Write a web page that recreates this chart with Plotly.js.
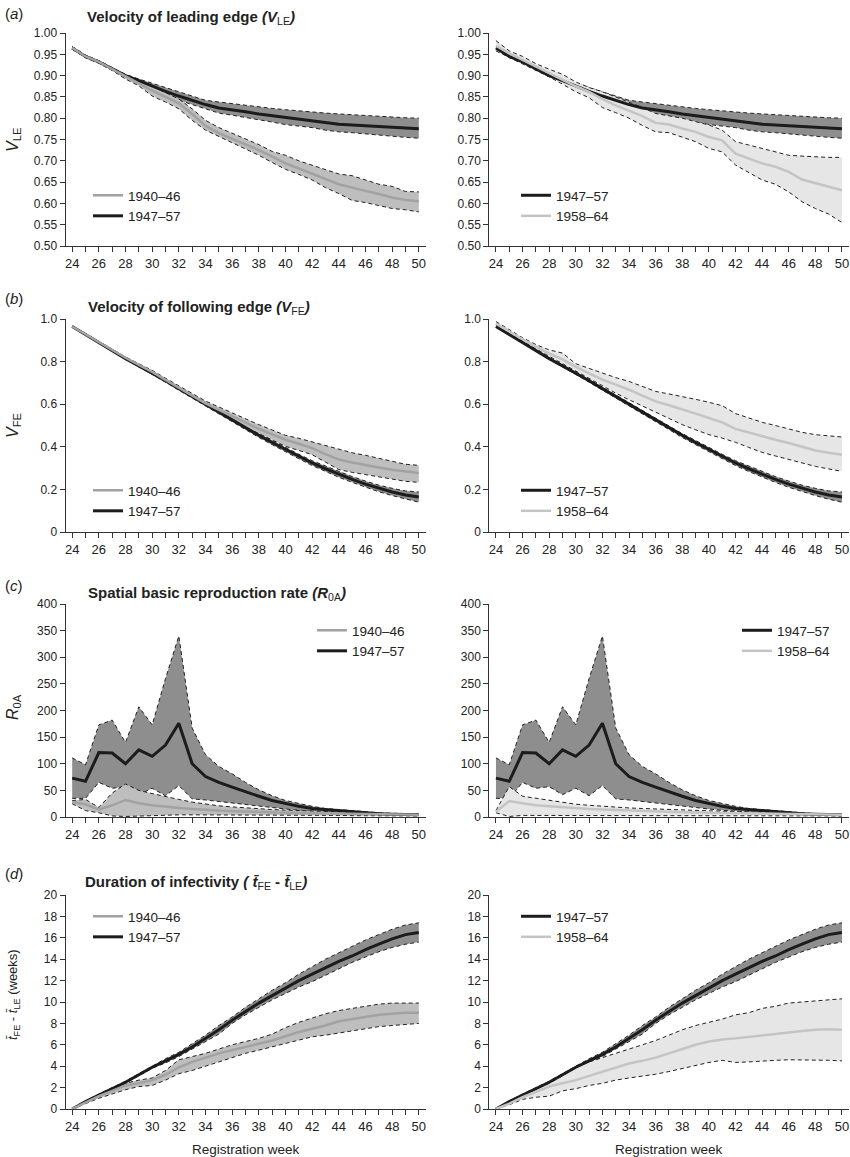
<!DOCTYPE html>
<html>
<head>
<meta charset="utf-8">
<script src="https://cdn.plot.ly/plotly-3.0.1.min.js"></script>
<style>
  html, body { margin: 0; padding: 0; background: #fff; }
  #plot { width: 850px; height: 1157px; }
</style>
</head>
<body>
<div id="plot"></div>
<script>
// registration weeks
const weeks = [24,25,26,27,28,29,30,31,32,33,34,35,36,37,38,39,40,41,42,43,44,45,46,47,48,49,50];

// (a) velocity of leading edge
const vle4046Mid = [0.965,0.945,0.932,0.915,0.897,0.882,0.865,0.850,0.835,0.810,0.782,0.765,0.752,0.738,0.725,0.710,0.694,0.682,0.670,0.657,0.645,0.637,0.630,0.622,0.614,0.608,0.605];
const vle4046Hi  = [0.968,0.948,0.935,0.918,0.900,0.888,0.875,0.860,0.845,0.822,0.795,0.778,0.765,0.752,0.738,0.722,0.713,0.700,0.690,0.680,0.669,0.665,0.655,0.645,0.640,0.628,0.627];
const vle4046Lo  = [0.962,0.942,0.929,0.912,0.892,0.876,0.852,0.838,0.822,0.795,0.772,0.757,0.742,0.727,0.713,0.696,0.680,0.668,0.655,0.637,0.623,0.607,0.602,0.595,0.588,0.585,0.580];
const vle4757Mid = [0.965,0.945,0.932,0.915,0.900,0.888,0.875,0.863,0.852,0.842,0.832,0.824,0.820,0.815,0.810,0.806,0.801,0.797,0.794,0.789,0.786,0.784,0.782,0.781,0.778,0.776,0.775];
const vle4757Hi  = [0.968,0.948,0.935,0.918,0.903,0.892,0.882,0.872,0.862,0.852,0.842,0.838,0.834,0.830,0.827,0.823,0.820,0.817,0.815,0.812,0.810,0.808,0.806,0.805,0.803,0.801,0.800];
const vle4757Lo  = [0.962,0.942,0.929,0.912,0.897,0.884,0.868,0.855,0.842,0.832,0.822,0.812,0.807,0.802,0.797,0.791,0.785,0.781,0.778,0.772,0.768,0.766,0.763,0.761,0.757,0.755,0.753];
const vle5864Mid = [0.970,0.952,0.937,0.921,0.905,0.890,0.875,0.862,0.845,0.830,0.818,0.805,0.789,0.785,0.776,0.768,0.756,0.748,0.717,0.705,0.694,0.686,0.674,0.656,0.648,0.640,0.631];
const vle5864Hi  = [0.982,0.958,0.945,0.928,0.915,0.903,0.885,0.872,0.862,0.850,0.838,0.825,0.811,0.806,0.800,0.792,0.784,0.772,0.745,0.737,0.729,0.720,0.713,0.711,0.709,0.708,0.708];
const vle5864Lo  = [0.958,0.943,0.928,0.913,0.897,0.880,0.862,0.848,0.825,0.813,0.800,0.783,0.768,0.766,0.756,0.745,0.729,0.721,0.690,0.672,0.655,0.645,0.627,0.604,0.588,0.575,0.555];

// (b) velocity of following edge
const vfe4046Mid = [0.965,0.928,0.890,0.854,0.818,0.785,0.752,0.714,0.676,0.640,0.604,0.573,0.543,0.513,0.484,0.458,0.433,0.414,0.394,0.366,0.340,0.326,0.316,0.303,0.292,0.284,0.277];
const vfe4046Hi  = [0.967,0.930,0.893,0.857,0.822,0.790,0.759,0.722,0.686,0.651,0.615,0.587,0.559,0.531,0.504,0.479,0.454,0.440,0.423,0.403,0.387,0.372,0.360,0.345,0.330,0.318,0.313];
const vfe4046Lo  = [0.963,0.926,0.887,0.851,0.814,0.780,0.746,0.707,0.668,0.630,0.593,0.558,0.524,0.493,0.462,0.432,0.402,0.383,0.363,0.328,0.293,0.280,0.269,0.258,0.247,0.238,0.233];
const vfe4757Mid = [0.965,0.927,0.889,0.851,0.814,0.780,0.746,0.710,0.673,0.636,0.598,0.562,0.527,0.490,0.454,0.420,0.387,0.355,0.324,0.297,0.271,0.247,0.225,0.205,0.188,0.174,0.164];
const vfe4757Hi  = [0.967,0.929,0.892,0.854,0.818,0.785,0.752,0.717,0.680,0.643,0.605,0.570,0.535,0.498,0.462,0.429,0.397,0.365,0.335,0.309,0.283,0.260,0.239,0.220,0.205,0.193,0.188];
const vfe4757Lo  = [0.963,0.925,0.886,0.848,0.810,0.775,0.740,0.703,0.666,0.628,0.590,0.554,0.518,0.481,0.444,0.410,0.376,0.344,0.312,0.284,0.257,0.233,0.210,0.189,0.171,0.154,0.140];
const vfe5864Mid = [0.978,0.940,0.905,0.870,0.838,0.810,0.775,0.745,0.715,0.692,0.668,0.640,0.613,0.595,0.577,0.556,0.535,0.515,0.484,0.466,0.449,0.433,0.418,0.400,0.383,0.372,0.363];
const vfe5864Hi  = [0.988,0.948,0.912,0.880,0.855,0.840,0.790,0.768,0.746,0.725,0.707,0.683,0.660,0.648,0.637,0.623,0.609,0.593,0.556,0.535,0.515,0.500,0.484,0.468,0.457,0.450,0.446];
const vfe5864Lo  = [0.970,0.932,0.897,0.860,0.825,0.790,0.754,0.720,0.684,0.652,0.621,0.592,0.562,0.533,0.504,0.480,0.457,0.441,0.421,0.397,0.374,0.357,0.340,0.323,0.308,0.296,0.285];

// (c) spatial basic reproduction rate
const r0a4046Mid = [28,24,14,22,32,26,22,19,17,15,13,12,11,10,9,8.5,8,7.5,7,6.5,6,5.5,5.2,5,4.7,4.4,4.2];
const r0a4046Hi  = [31,33,18,45,62,50,44,38,33,28,24,21,19,17,15,14,13,12,11,10,9,8.5,8,7.5,7,6.5,6];
const r0a4046Lo  = [25,12,8,2,1,2,3,4,4,4,4,4,4,4,3.5,3.5,3.5,3,3,3,3,2.5,2.5,2.5,2.5,2,2];
const r0a4757Mid = [73,67,121,120,100,126,114,135,176,100,76,65,56,47,39,31,25,20,16,14,11,9,8,6,5,4.5,4];
const r0a4757Hi  = [111,98,173,182,140,207,173,260,340,167,117,95,81,65,51,40,31,25,20,16,14,11,9,7.5,6,5.6,5];
const r0a4757Lo  = [35,35,65,54,57,42,54,40,59,34,32,29,26,23,20,17,15,12.5,10.6,9.4,8,7,6.2,5,4.4,3.7,3];
const r0a5864Mid = [10,30,26,22,20,18,16,15,14,13,12,11,10,9.5,9,8.5,8,7.5,7,6.5,6,5.5,5,4.8,4.5,4.2,4];
const r0a5864Hi  = [12,57,39,35,31,27,24,22,20,18,17,16,15,14,13,12,11,10,9.5,9,8.5,8,7.5,7,6.5,6,5.5];
const r0a5864Lo  = [8,1,3,3,3,3,3,3,3,3,3,3,3,3,3,3,3,2.5,2.5,2.5,2.5,2.5,2.5,2,2,2,2];

// (d) duration of infectivity (weeks)
const dur4046Mid = [0,0.6,1.2,1.7,2.2,2.4,2.7,3.2,3.9,4.4,4.8,5.2,5.5,5.8,6.1,6.4,6.8,7.2,7.5,7.8,8.2,8.4,8.6,8.8,8.9,9.0,9.0];
const dur4046Hi  = [0,0.65,1.3,1.8,2.4,2.7,2.9,3.6,4.6,4.9,5.2,5.6,6.0,6.3,6.6,7.0,7.6,8.1,8.5,8.9,9.2,9.4,9.6,9.8,9.9,9.9,9.9];
const dur4046Lo  = [0,0.5,1.0,1.4,1.8,2.1,2.2,2.7,3.3,3.6,4.0,4.4,4.8,5.2,5.5,5.8,6.1,6.4,6.75,6.9,7.1,7.3,7.5,7.7,7.8,7.9,8.0];
const dur4757Mid = [0,0.7,1.3,1.9,2.5,3.2,3.9,4.5,5.1,5.8,6.6,7.4,8.3,9.1,9.9,10.6,11.3,12.0,12.6,13.2,13.8,14.3,14.9,15.4,15.9,16.3,16.5];
const dur4757Hi  = [0,0.75,1.4,2.0,2.6,3.3,4.0,4.7,5.3,6.1,6.9,7.8,8.6,9.5,10.3,11.1,11.8,12.6,13.3,14.0,14.6,15.2,15.8,16.3,16.8,17.2,17.4];
const dur4757Lo  = [0,0.65,1.2,1.8,2.4,3.1,3.8,4.3,4.9,5.6,6.3,7.0,8.0,8.8,9.5,10.2,10.8,11.4,11.9,12.5,13.1,13.7,14.2,14.7,15.1,15.4,15.6];
const dur5864Mid = [0,0.5,1.1,1.6,2.1,2.4,2.7,3.1,3.5,3.9,4.25,4.5,4.8,5.2,5.6,6.0,6.3,6.5,6.6,6.75,6.9,7.05,7.2,7.3,7.4,7.45,7.4];
const dur5864Hi  = [0,0.6,1.3,1.9,2.4,3.1,3.9,4.4,4.8,5.2,5.6,6.0,6.4,6.9,7.4,7.8,8.1,8.4,8.8,9.0,9.4,9.6,9.9,10.0,10.1,10.2,10.3];
const dur5864Lo  = [0,0.4,0.9,1.1,1.2,1.7,1.9,2.2,2.4,2.7,2.9,3.05,3.25,3.5,3.8,4.1,4.35,4.55,4.35,4.4,4.5,4.55,4.6,4.6,4.55,4.55,4.5];

// tick labels for the V_FE axes
const vfeTickVals = [0,0.2,0.4,0.6,0.8,1.0];
const vfeTickText = ['0','0.2','0.4','0.6','0.8','1.0'];

const W = 850, H = 1157;
const FONT = '"Liberation Sans", Arial, sans-serif';
const px = x => x / W;
const py = y => 1 - y / H;

// period styles
const styles = {
  '1940–46': { band: '#bebebe', line: '#a2a2a2', width: 2.5 },
  '1947–57': { band: '#8e8e8e', line: '#1c1c1c', width: 3 },
  '1958–64': { band: '#e6e6e6', line: '#c4c4c4', width: 2.5 }
};

// pixel boxes for the plots
const rowTop = [33, 319, 604, 895];
const rowBot = [246, 532, 817, 1109];
const colLeft = [65.5, 489.3];
const colRight = [425.5, 848.6];

// each panel: which series, drawn bottom first; legend order via rank
const panels = [
  { row: 0, col: 0, series: [['1947–57', vle4757Lo, vle4757Hi, vle4757Mid, 2], ['1940–46', vle4046Lo, vle4046Hi, vle4046Mid, 1]] },
  { row: 0, col: 1, series: [['1947–57', vle4757Lo, vle4757Hi, vle4757Mid, 1], ['1958–64', vle5864Lo, vle5864Hi, vle5864Mid, 2]] },
  { row: 1, col: 0, series: [['1947–57', vfe4757Lo, vfe4757Hi, vfe4757Mid, 2], ['1940–46', vfe4046Lo, vfe4046Hi, vfe4046Mid, 1]] },
  { row: 1, col: 1, series: [['1947–57', vfe4757Lo, vfe4757Hi, vfe4757Mid, 1], ['1958–64', vfe5864Lo, vfe5864Hi, vfe5864Mid, 2]] },
  { row: 2, col: 0, series: [['1947–57', r0a4757Lo, r0a4757Hi, r0a4757Mid, 2], ['1940–46', r0a4046Lo, r0a4046Hi, r0a4046Mid, 1]] },
  { row: 2, col: 1, series: [['1947–57', r0a4757Lo, r0a4757Hi, r0a4757Mid, 1], ['1958–64', r0a5864Lo, r0a5864Hi, r0a5864Mid, 2]] },
  { row: 3, col: 0, series: [['1947–57', dur4757Lo, dur4757Hi, dur4757Mid, 2], ['1940–46', dur4046Lo, dur4046Hi, dur4046Mid, 1]] },
  { row: 3, col: 1, series: [['1947–57', dur4757Lo, dur4757Hi, dur4757Mid, 1], ['1958–64', dur5864Lo, dur5864Hi, dur5864Mid, 2]] }
];

// legend top-left corners (pixels)
const legendPos = [[88, 180], [516, 180], [88, 475], [516, 475], [312, 615], [737, 615], [88, 901], [516, 901]];

const yAxisCfg = [
  { range: [0.5, 1.0], tick0: 0.5, dtick: 0.05, tickformat: '.2f' },
  { range: [0, 1.0], tickmode: 'array', tickvals: vfeTickVals, ticktext: vfeTickText },
  { range: [0, 400], tick0: 0, dtick: 50 },
  { range: [0, 20], tick0: 0, dtick: 2 }
];

const traces = [];
const layout = {
  width: W, height: H,
  margin: { l: 0, r: 0, t: 0, b: 0 },
  paper_bgcolor: '#fff', plot_bgcolor: 'rgba(0,0,0,0)',
  font: { family: FONT, color: '#222' },
  annotations: [],
  hovermode: false
};

panels.forEach((p, i) => {
  const k = i + 1;
  const xa = k === 1 ? 'x' : 'x' + k;
  const ya = k === 1 ? 'y' : 'y' + k;
  const lg = k === 1 ? 'legend' : 'legend' + k;

  // bands first, then median lines on top
  p.series.forEach(([name, lo, hi]) => {
    const dashed = { color: '#222', width: 1, dash: '4px,3px' };
    traces.push({ x: weeks, y: lo, xaxis: xa, yaxis: ya, type: 'scatter', mode: 'lines',
      line: dashed, showlegend: false, hoverinfo: 'skip' });
    traces.push({ x: weeks, y: hi, xaxis: xa, yaxis: ya, type: 'scatter', mode: 'lines',
      line: dashed, fill: 'tonexty', fillcolor: styles[name].band, showlegend: false, hoverinfo: 'skip' });
  });
  p.series.forEach(([name, lo, hi, mid, rank]) => {
    traces.push({ x: weeks, y: mid, xaxis: xa, yaxis: ya, type: 'scatter', mode: 'lines',
      name: name, legend: lg, legendrank: rank,
      line: { color: styles[name].line, width: styles[name].width } });
  });

  const axisLine = { showline: true, linecolor: '#333', linewidth: 1, showgrid: false, zeroline: false,
    ticks: 'outside', ticklen: 5, tickwidth: 1, tickcolor: '#333', fixedrange: true };

  layout['xaxis' + (k === 1 ? '' : k)] = Object.assign({}, axisLine, {
    anchor: ya,
    domain: [px(colLeft[p.col]), px(colRight[p.col])],
    range: [23.5, 50.5], tick0: 24, dtick: 2,
    tickfont: { family: FONT, size: 13, color: '#222' },
    minor: { tick0: 24, dtick: 1, ticks: 'outside', ticklen: 5, tickwidth: 1, tickcolor: '#333', showgrid: false }
  });
  layout['yaxis' + (k === 1 ? '' : k)] = Object.assign({}, axisLine, {
    anchor: xa,
    domain: [py(rowBot[p.row]), py(rowTop[p.row])],
    tickfont: { family: FONT, size: 12, color: '#222' }
  }, yAxisCfg[p.row]);

  layout[lg] = {
    x: px(legendPos[i][0]), y: py(legendPos[i][1]), xanchor: 'left', yanchor: 'top',
    bgcolor: 'rgba(0,0,0,0)', borderwidth: 0, itemwidth: 30, traceorder: 'normal',
    font: { family: FONT, size: 13.5, color: '#222' }
  };
});

// panel letters, titles and axis titles
const panelLetters = ['(<i>a</i>)', '(<i>b</i>)', '(<i>c</i>)', '(<i>d</i>)'];
const letterY = [13, 299, 585, 873];
const panelTitles = [
  '<b>Velocity of leading edge <i>(V</i></b><sub>LE</sub><b><i>)</i></b>',
  '<b>Velocity of following edge <i>(V</i></b><sub>FE</sub><b><i>)</i></b>',
  '<b>Spatial basic reproduction rate <i>(R</i></b><sub>0A</sub><b><i>)</i></b>',
  '<b>Duration of infectivity <i>( t\u0304</i></b><sub>FE</sub><b> - <i>t\u0304</i></b><sub>LE</sub><b><i>)</i></b>'
];
const titleX = [85, 86, 86, 83];
const titleY = [18, 308, 593, 882];
const yTitles = [
  '<i>V</i><sub>LE</sub>',
  '<i>V</i><sub>FE</sub>',
  '<i>R</i><sub>0A</sub>',
  '<i>t\u0304</i><sub>FE</sub> - <i>t\u0304</i><sub>LE</sub> (weeks)'
];
const yTitleY = [140, 426, 707, 995];

for (let r = 0; r < 4; r++) {
  layout.annotations.push({ text: panelLetters[r], xref: 'paper', yref: 'paper',
    x: px(3), y: py(letterY[r]), xanchor: 'left', yanchor: 'middle', showarrow: false,
    font: { family: FONT, size: 15, color: '#222' } });
  layout.annotations.push({ text: panelTitles[r], xref: 'paper', yref: 'paper',
    x: px(titleX[r]), y: py(titleY[r]), xanchor: 'left', yanchor: 'middle', showarrow: false,
    font: { family: FONT, size: 15, color: '#222' } });
  layout.annotations.push({ text: yTitles[r], xref: 'paper', yref: 'paper', textangle: -90,
    x: px(13), y: py(yTitleY[r]), xanchor: 'center', yanchor: 'middle', showarrow: false,
    font: { family: FONT, size: r === 3 ? 13 : 16, color: '#222' } });
}
[0, 1].forEach(c => {
  layout.annotations.push({ text: 'Registration week', xref: 'paper', yref: 'paper',
    x: px((colLeft[c] + colRight[c]) / 2), y: py(1149), xanchor: 'center', yanchor: 'middle',
    showarrow: false, font: { family: FONT, size: 13.5, color: '#222' } });
});

Plotly.newPlot('plot', traces, layout, { staticPlot: true, displayModeBar: false });
</script>
</body>
</html>
